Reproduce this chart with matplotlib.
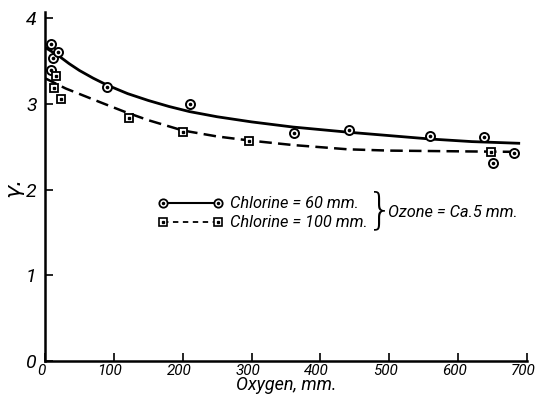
import matplotlib
matplotlib.use("Agg")
import matplotlib.pyplot as plt
import matplotlib.transforms as mtrans
from matplotlib.lines import Line2D
from matplotlib import font_manager

# ---- data ----
# Chlorine = 60 mm (circles)
cl60_x = [8, 12, 19, 8, 90, 211, 361, 441, 559, 637, 650, 681]
cl60_y = [3.70, 3.53, 3.60, 3.39, 3.20, 3.00, 2.66, 2.70, 2.63, 2.61, 2.31, 2.43]
# Chlorine = 100 mm (squares)
cl100_x = [16, 13, 23, 122, 201, 296, 648]
cl100_y = [3.32, 3.18, 3.06, 2.83, 2.67, 2.565, 2.44]
# hand-drawn smooth curves
curve60_x = [0, 10, 20, 35, 50, 70, 90, 120, 150, 180, 210, 250, 300, 360, 440, 500, 560, 620, 690]
curve60_y = [3.66, 3.61, 3.56, 3.47, 3.39, 3.30, 3.22, 3.12, 3.04, 2.97, 2.91, 2.85, 2.79, 2.73, 2.67, 2.63, 2.59, 2.56, 2.54]
curve100_x = [0, 15, 30, 55, 80, 115, 150, 200, 250, 300, 360, 440, 500, 560, 620, 690]
curve100_y = [3.30, 3.24, 3.18, 3.10, 3.02, 2.91, 2.81, 2.69, 2.62, 2.57, 2.52, 2.47, 2.455, 2.45, 2.445, 2.44]

xticks = [0, 100, 200, 300, 400, 500, 600, 700]
yticks = [0, 1, 2, 3, 4]

names = {f.name for f in font_manager.fontManager.ttflist}
if "Roboto" in names:
    fam, k = ["Roboto", "DejaVu Sans"], 1.0
else:
    fam, k = ["DejaVu Sans"], 0.9
FONT = dict(family=fam, style="italic")

fig = plt.figure(figsize=(5.38, 4.01), dpi=100)
ax = fig.add_axes([45/538, 1-361/401, (527-45)/538, (361-12)/401])

# curves
ax.plot(curve60_x, curve60_y, color="black", lw=2.0, solid_capstyle="butt")
ax.plot(curve100_x, curve100_y, color="black", lw=1.8, linestyle=(0, (5, 2.5)))

# points
def circ(x, y):
    ax.plot(x, y, ls="none", marker="o", ms=6.5, mfc="white", mec="black", mew=1.4, zorder=5)
    ax.plot(x, y, ls="none", marker="o", ms=1.6, mfc="black", mec="black", zorder=6)

def sq(x, y):
    ax.plot(x, y, ls="none", marker="s", ms=6.0, mfc="white", mec="black", mew=1.3, zorder=5)
    ax.plot(x, y, ls="none", marker="s", ms=1.5, mfc="black", mec="black", zorder=6)

circ(cl60_x, cl60_y)
sq(cl100_x, cl100_y)

ax.set_xlim(0, 700)
ax.set_ylim(0, (361-12)/85.7)
ax.set_xticks(xticks)
ax.set_yticks(yticks)
ax.set_xticklabels([str(v) for v in xticks], fontdict=dict(size=11*k, **FONT))
ax.set_yticklabels([str(v) for v in yticks], fontdict=dict(size=14*k, **FONT))
ax.tick_params(axis="both", direction="in", length=6, width=1.2, pad=2)
ax.tick_params(axis="y", pad=6)
for s in ["top", "right"]:
    ax.spines[s].set_visible(False)
for s in ["left", "bottom"]:
    ax.spines[s].set_linewidth(1.8)
shift = mtrans.ScaledTranslation(-4/100, 0, fig.dpi_scale_trans)
for lbl in ax.get_xticklabels():
    lbl.set_transform(lbl.get_transform() + shift)

ax.set_xlabel("Oxygen, mm.", fontsize=13*k, labelpad=-1, **FONT)
ax.set_ylabel("γ.", fontsize=16, labelpad=2, rotation=90, family="DejaVu Sans", style="italic")

# legend drawn by hand
tf = fig.transFigure
def fx(px): return px/538
def fy(py): return 1-py/401

fig.add_artist(Line2D([fx(163), fx(218)], [fy(203), fy(203)], transform=tf,
                      color="black", lw=1.5, marker="o", ms=6, mfc="white", mec="black", mew=1.3))
fig.add_artist(Line2D([fx(163), fx(218)], [fy(203), fy(203)], transform=tf,
                      ls="none", marker="o", ms=1.5, color="black"))
fig.add_artist(Line2D([fx(163), fx(218)], [fy(222), fy(222)], transform=tf,
                      color="black", lw=1.3, linestyle=(0, (3, 2.5)), marker="s", ms=5.5,
                      mfc="white", mec="black", mew=1.2))
fig.add_artist(Line2D([fx(163), fx(218)], [fy(222), fy(222)], transform=tf,
                      ls="none", marker="s", ms=1.4, color="black"))

fig.text(fx(230), fy(203), "Chlorine = 60 mm.", fontsize=11.8*k, va="center", ha="left", **FONT)
fig.text(fx(230), fy(222), "Chlorine = 100 mm.", fontsize=11.8*k, va="center", ha="left", **FONT)
fig.text(fx(380), fy(211), "}", fontsize=30, va="center", ha="center",
         family="DejaVu Sans", fontweight="light")
fig.text(fx(388), fy(212), "Ozone = Ca.5 mm.", fontsize=11.8*k, va="center", ha="left", **FONT)

fig.savefig("out.png", dpi=100)
